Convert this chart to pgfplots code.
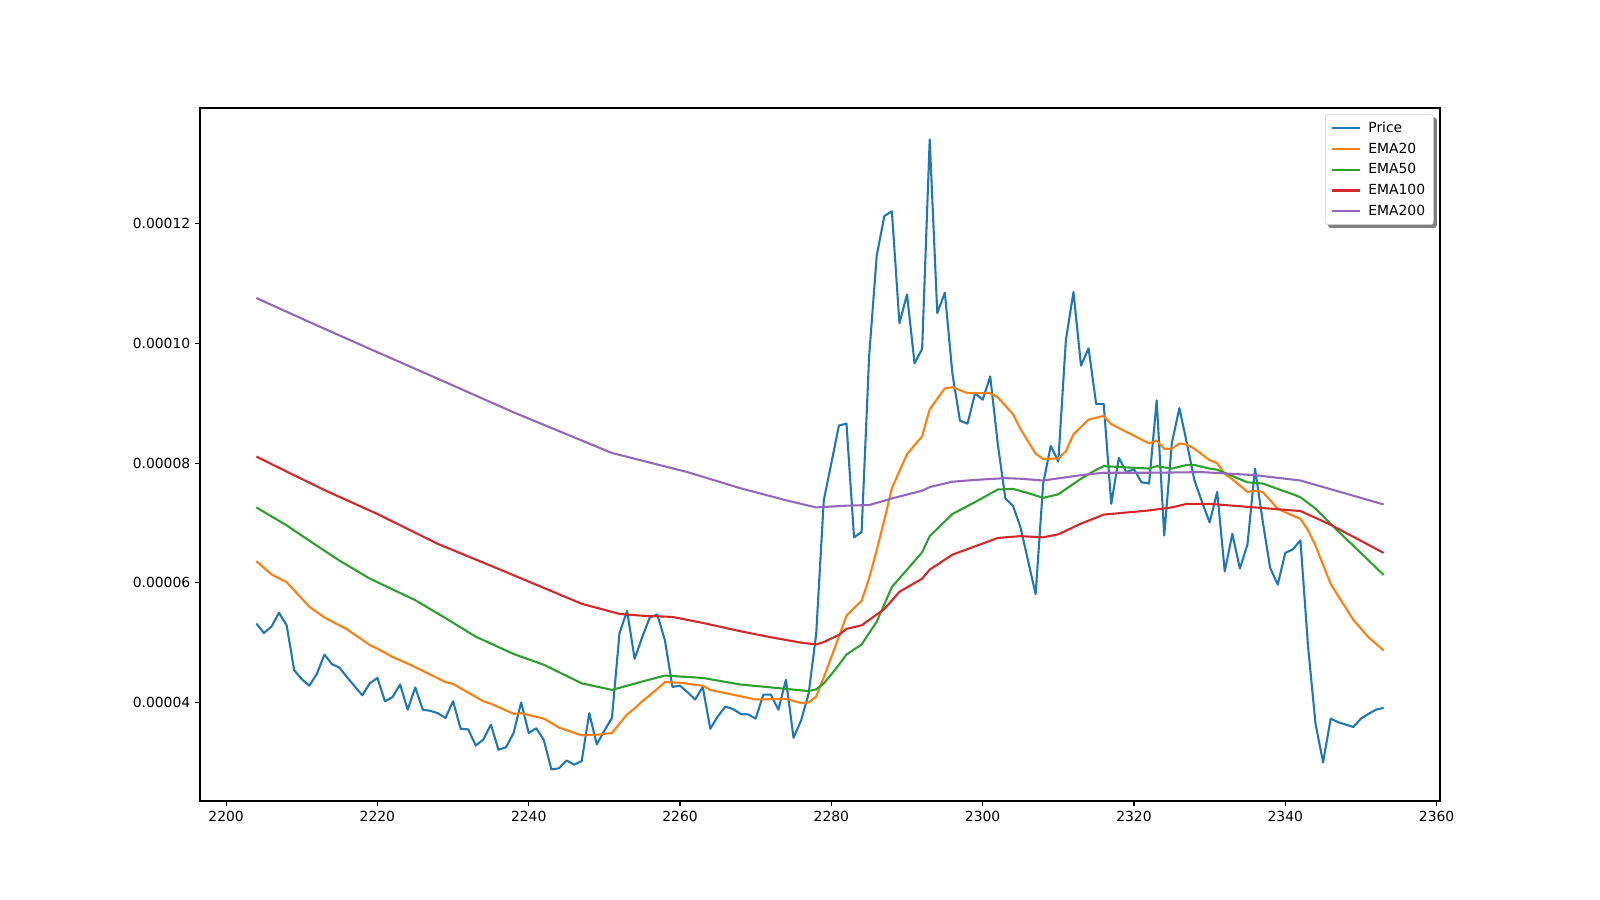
\documentclass[border=0pt]{standalone}
\usepackage{fontspec}
\setmainfont{DejaVu Sans}
\usepackage{pgfplots}
\pgfplotsset{compat=1.18}
\usepackage{pgfplotstable}

\pgfdeclarelayer{background}
\pgfsetlayers{background,main}

\definecolor{cprice}{HTML}{1F77B4}
\definecolor{cema20}{HTML}{FF7F0E}
\definecolor{cema50}{HTML}{2CA02C}
\definecolor{cema100}{HTML}{D62728}
\definecolor{cema200}{HTML}{9467BD}

\pgfplotsset{
  legend image code/.code={\draw[#1, line width=1.5pt] (0pt,0pt) -- (20.5pt,0pt); \path (23.5pt,0pt);},
}

% price
\pgfplotstableread{
x y
2204 5.32e-5
2205 5.16e-5
2206 5.27e-5
2207 5.50e-5
2208 5.29e-5
2209 4.54e-5
2210 4.39e-5
2211 4.28e-5
2212 4.48e-5
2213 4.80e-5
2214 4.64e-5
2215 4.58e-5
2216 4.42e-5
2217 4.27e-5
2218 4.12e-5
2219 4.32e-5
2220 4.41e-5
2221 4.02e-5
2222 4.09e-5
2223 4.30e-5
2224 3.88e-5
2225 4.25e-5
2226 3.88e-5
2227 3.86e-5
2228 3.82e-5
2229 3.74e-5
2230 4.02e-5
2231 3.56e-5
2232 3.55e-5
2233 3.28e-5
2234 3.38e-5
2235 3.63e-5
2236 3.21e-5
2237 3.25e-5
2238 3.49e-5
2239 4.00e-5
2240 3.49e-5
2241 3.57e-5
2242 3.37e-5
2243 2.88e-5
2244 2.90e-5
2245 3.03e-5
2246 2.96e-5
2247 3.02e-5
2248 3.82e-5
2249 3.30e-5
2250 3.53e-5
2251 3.74e-5
2252 5.16e-5
2253 5.53e-5
2254 4.73e-5
2255 5.09e-5
2256 5.42e-5
2257 5.47e-5
2258 5.04e-5
2259 4.26e-5
2260 4.28e-5
2261 4.17e-5
2262 4.05e-5
2263 4.26e-5
2264 3.56e-5
2265 3.77e-5
2266 3.93e-5
2267 3.89e-5
2268 3.81e-5
2269 3.80e-5
2270 3.73e-5
2271 4.13e-5
2272 4.13e-5
2273 3.88e-5
2274 4.38e-5
2275 3.41e-5
2276 3.70e-5
2277 4.15e-5
2278 5.15e-5
2279 7.38e-5
2280 8.00e-5
2281 8.63e-5
2282 8.66e-5
2283 6.76e-5
2284 6.85e-5
2285 9.80e-5
2286 11.47e-5
2287 12.13e-5
2288 12.21e-5
2289 10.34e-5
2290 10.82e-5
2291 9.67e-5
2292 9.91e-5
2293 13.41e-5
2294 10.51e-5
2295 10.85e-5
2296 9.50e-5
2297 8.71e-5
2298 8.66e-5
2299 9.17e-5
2300 9.06e-5
2301 9.45e-5
2302 8.32e-5
2303 7.41e-5
2304 7.29e-5
2305 6.93e-5
2306 6.37e-5
2307 5.81e-5
2308 7.66e-5
2309 8.29e-5
2310 8.03e-5
2311 10.06e-5
2312 10.86e-5
2313 9.63e-5
2314 9.92e-5
2315 8.99e-5
2316 8.99e-5
2317 7.32e-5
2318 8.09e-5
2319 7.85e-5
2320 7.90e-5
2321 7.68e-5
2322 7.66e-5
2323 9.05e-5
2324 6.79e-5
2325 8.33e-5
2326 8.92e-5
2327 8.33e-5
2328 7.71e-5
2329 7.35e-5
2330 7.01e-5
2331 7.52e-5
2332 6.19e-5
2333 6.82e-5
2334 6.24e-5
2335 6.64e-5
2336 7.91e-5
2337 7.04e-5
2338 6.25e-5
2339 5.97e-5
2340 6.50e-5
2341 6.56e-5
2342 6.71e-5
2343 4.95e-5
2344 3.64e-5
2345 3.00e-5
2346 3.73e-5
2347 3.67e-5
2348 3.63e-5
2349 3.59e-5
2350 3.73e-5
2351 3.81e-5
2352 3.88e-5
2353 3.91e-5
}\price

\pgfplotstableread{
x y
2204 6.36e-5
2206 6.14e-5
2208 6.01e-5
2211 5.60e-5
2213 5.42e-5
2216 5.22e-5
2219 4.96e-5
2220 4.90e-5
2222 4.76e-5
2224 4.65e-5
2225 4.59e-5
2229 4.34e-5
2230 4.31e-5
2234 4.02e-5
2235 3.98e-5
2238 3.81e-5
2239 3.82e-5
2242 3.73e-5
2244 3.58e-5
2247 3.45e-5
2249 3.46e-5
2251 3.49e-5
2253 3.80e-5
2254 3.90e-5
2255 4.02e-5
2256 4.12e-5
2258 4.34e-5
2260 4.33e-5
2263 4.28e-5
2264 4.21e-5
2267 4.13e-5
2270 4.05e-5
2274 4.06e-5
2276 3.99e-5
2277 4.00e-5
2278 4.10e-5
2279 4.42e-5
2280 4.76e-5
2281 5.10e-5
2282 5.45e-5
2283 5.58e-5
2284 5.70e-5
2285 6.08e-5
2286 6.55e-5
2287 7.05e-5
2288 7.58e-5
2290 8.15e-5
2292 8.45e-5
2293 8.90e-5
2295 9.25e-5
2296 9.27e-5
2298 9.17e-5
2301 9.17e-5
2302 9.10e-5
2304 8.82e-5
2305 8.57e-5
2307 8.16e-5
2308 8.07e-5
2310 8.08e-5
2311 8.20e-5
2312 8.48e-5
2314 8.73e-5
2316 8.79e-5
2317 8.65e-5
2322 8.33e-5
2323 8.38e-5
2324 8.24e-5
2325 8.24e-5
2326 8.33e-5
2327 8.31e-5
2328 8.24e-5
2330 8.05e-5
2331 8.00e-5
2332 7.82e-5
2333 7.73e-5
2335 7.52e-5
2336 7.54e-5
2337 7.52e-5
2339 7.24e-5
2341 7.12e-5
2342 7.07e-5
2343 6.88e-5
2344 6.62e-5
2346 5.98e-5
2349 5.38e-5
2351 5.09e-5
2353 4.87e-5
}\emaA

\pgfplotstableread{
x y
2204 7.26e-5
2208 6.96e-5
2212 6.62e-5
2215 6.37e-5
2219 6.07e-5
2225 5.71e-5
2229 5.41e-5
2233 5.10e-5
2238 4.81e-5
2242 4.63e-5
2247 4.32e-5
2251 4.21e-5
2255 4.35e-5
2258 4.45e-5
2263 4.41e-5
2268 4.30e-5
2273 4.24e-5
2277 4.19e-5
2278 4.22e-5
2279 4.32e-5
2280 4.47e-5
2281 4.63e-5
2282 4.80e-5
2284 4.97e-5
2286 5.35e-5
2288 5.93e-5
2292 6.51e-5
2293 6.78e-5
2296 7.15e-5
2299 7.35e-5
2302 7.56e-5
2304 7.57e-5
2306 7.50e-5
2308 7.42e-5
2310 7.48e-5
2313 7.74e-5
2315 7.89e-5
2316 7.95e-5
2322 7.91e-5
2323 7.95e-5
2325 7.91e-5
2327 7.97e-5
2328 7.97e-5
2330 7.91e-5
2331 7.89e-5
2335 7.68e-5
2337 7.66e-5
2341 7.48e-5
2342 7.43e-5
2344 7.24e-5
2347 6.86e-5
2349 6.62e-5
2353 6.13e-5
}\emaB

\pgfplotstableread{
x y
2204 8.11e-5
2208 7.86e-5
2213 7.55e-5
2220 7.15e-5
2228 6.65e-5
2237 6.18e-5
2240 6.02e-5
2247 5.65e-5
2252 5.48e-5
2255 5.45e-5
2259 5.43e-5
2263 5.33e-5
2268 5.19e-5
2272 5.09e-5
2276 5.00e-5
2278 4.97e-5
2279 5.01e-5
2281 5.13e-5
2282 5.23e-5
2284 5.29e-5
2287 5.56e-5
2289 5.85e-5
2292 6.07e-5
2293 6.22e-5
2296 6.47e-5
2299 6.61e-5
2302 6.75e-5
2305 6.78e-5
2308 6.76e-5
2310 6.81e-5
2313 6.99e-5
2316 7.14e-5
2322 7.21e-5
2325 7.26e-5
2327 7.32e-5
2330 7.32e-5
2336 7.26e-5
2342 7.20e-5
2346 6.97e-5
2353 6.50e-5
}\emaC

\pgfplotstableread{
x y
2204 10.76e-5
2211 10.36e-5
2219 9.91e-5
2228 9.41e-5
2238 8.85e-5
2251 8.17e-5
2261 7.85e-5
2268 7.58e-5
2274 7.38e-5
2278 7.26e-5
2282 7.29e-5
2285 7.30e-5
2288 7.41e-5
2292 7.54e-5
2293 7.60e-5
2296 7.69e-5
2299 7.72e-5
2303 7.75e-5
2305 7.74e-5
2308 7.71e-5
2313 7.80e-5
2316 7.84e-5
2322 7.84e-5
2329 7.85e-5
2336 7.80e-5
2342 7.71e-5
2353 7.31e-5
}\emaD

\begin{document}
\begin{tikzpicture}
\begin{axis}[
  scale only axis,
  width=892.8pt, height=498.96pt,
  xmin=2196.55, xmax=2360.45,
  ymin=2.353e-5, ymax=13.937e-5,
  axis line style={line width=0.8pt},
  tick align=outside, major tick length=3.5pt,
  tick style={line width=0.8pt, black},
  xtick pos=bottom, ytick pos=left,
  xtick={2200,2220,2240,2260,2280,2300,2320,2340,2360},
  xticklabels={2200,2220,2240,2260,2280,2300,2320,2340,2360},
  ytick={4e-5,6e-5,8e-5,10e-5,12e-5},
  yticklabels={0.00004,0.00006,0.00008,0.00010,0.00012},
  scaled y ticks=false,
  tick label style={font=\fontsize{10}{12}\selectfont},
  every axis plot/.append style={line width=1.5pt, line join=round, mark=none},
  legend cell align=left,
  legend style={name=leg, at={(1,1)}, anchor=north east, xshift=-4.5pt, yshift=-4.6pt,
    draw=black!20, fill=white, rounded corners=2pt,
    font=\fontsize{10}{12}\selectfont,
    row sep=2.0pt, inner xsep=4pt, inner ysep=3.2pt},
]
\addplot[cprice] table {\price};
\addlegendentry{Price}
\addplot[cema20] table {\emaA};
\addlegendentry{EMA20}
\addplot[cema50] table {\emaB};
\addlegendentry{EMA50}
\addplot[cema100] table {\emaC};
\addlegendentry{EMA100}
\addplot[cema200] table {\emaD};
\addlegendentry{EMA200}
\end{axis}
\begin{pgfonlayer}{background}
\fill[black!50, rounded corners=2pt] ([shift={(2.2pt,-2.2pt)}]leg.south west)
  rectangle ([shift={(2.2pt,-2.2pt)}]leg.north east);
\end{pgfonlayer}
\path ([shift={(-144pt,-71.28pt)}]current axis.south west)
  rectangle ([shift={(115.2pt,77.76pt)}]current axis.north east);
\end{tikzpicture}
\end{document}
